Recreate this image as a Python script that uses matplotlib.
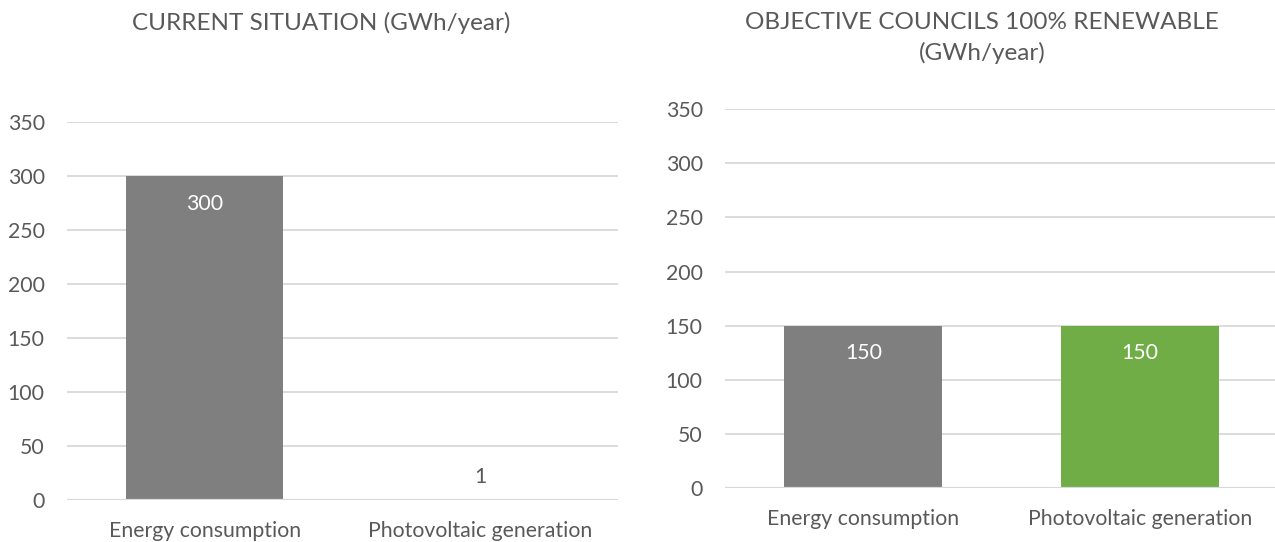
import matplotlib.pyplot as plt

plt.rcParams['font.family'] = ['Lato', 'DejaVu Sans']

categories = ["Energy consumption", "Photovoltaic generation"]
current_values = [300, 1]
objective_values = [150, 150]
yticks = [0, 50, 100, 150, 200, 250, 300, 350]
title_left = "CURRENT SITUATION (GWh/year)"
title_right = "OBJECTIVE COUNCILS 100% RENEWABLE\n(GWh/year)"

GRAY = "#7f7f7f"
GREEN = "#70ad47"
TXT = "#595959"
GRID = "#d9d9d9"
FS = 15.3

fig = plt.figure(figsize=(12.75, 5.42), dpi=100)
ax1 = fig.add_axes([0.0525, 0.0775, 0.432, 0.697])
ax2 = fig.add_axes([0.5686, 0.0996, 0.434, 0.699])


def style(ax, values, colors, title, title_x, title_y):
    x = range(len(categories))
    bars = ax.bar(x, values, width=0.57, color=colors, zorder=3)
    ax.set_xlim(-0.5, 1.5)
    ax.set_ylim(0, 350)
    ax.set_yticks(yticks)
    ax.set_yticklabels([str(t) for t in yticks])
    ax.set_xticks(list(x))
    ax.set_xticklabels(categories)
    ax.tick_params(axis='both', length=0, labelsize=FS, colors=TXT)
    ax.tick_params(axis='x', pad=15)
    ax.tick_params(axis='y', pad=16)
    ax.yaxis.grid(True, color=GRID, linewidth=1.3, zorder=0)
    for s in ax.spines.values():
        s.set_visible(False)
    ax.axhline(0, color=GRID, linewidth=1.6, zorder=4)
    for b, v in zip(bars, values):
        cx = b.get_x() + b.get_width() / 2
        if v > 30:
            ax.annotate(str(v), (cx, v), xytext=(0, -20), textcoords='offset points',
                        ha='center', va='center', color='white', fontsize=FS)
        else:
            ax.annotate(str(v), (cx, v), xytext=(0, 16), textcoords='offset points',
                        ha='center', va='center', color=TXT, fontsize=FS)
    fig.text(title_x, title_y, title,
             ha='center', va='top', fontsize=17.5, color=TXT, linespacing=1.5)


style(ax1, current_values, [GRAY, GRAY], title_left, 0.252, 0.978)
style(ax2, objective_values, [GRAY, GREEN], title_right, 0.770, 0.978)

fig.savefig("out.png", dpi=100)
